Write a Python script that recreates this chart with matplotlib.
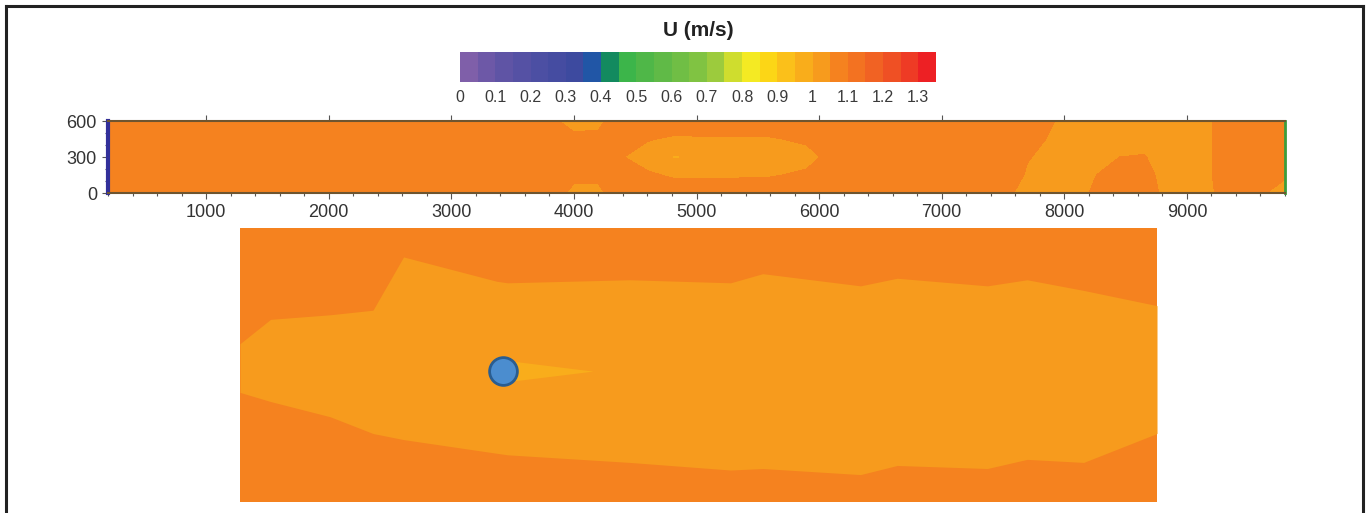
import numpy as np
import matplotlib
matplotlib.use("Agg")
import matplotlib.pyplot as plt
from matplotlib.colors import ListedColormap, BoundaryNorm
from matplotlib.cm import ScalarMappable
from matplotlib.lines import Line2D
from matplotlib.ticker import MultipleLocator, FixedFormatter

plt.rcParams["font.family"] = ["Liberation Sans", "DejaVu Sans"]

# velocity colour scale (m/s), 0.05 bins
u_levels = np.linspace(0, 1.35, 28)
u_colors = [
    "#7f5fa9", "#6d58a7", "#5f54a5", "#5551a4", "#4c4fa3", "#454ca1", "#3d4a9f",
    "#2156a6", "#138a5f", "#3cb54a", "#4fb748", "#60ba47", "#70be45", "#80c342",
    "#9ccb3d", "#cfdd2e", "#f4ea23", "#fcd616", "#fbc01a", "#f9ad1b", "#f79b1d",
    "#f5821f", "#f37221", "#f16223", "#ef5024", "#ee3b25", "#ed2024",
]
u_ticks = [0, 0.1, 0.2, 0.3, 0.4, 0.5, 0.6, 0.7, 0.8, 0.9, 1.0, 1.1, 1.2, 1.3]
u_tick_labels = ["0", "0.1", "0.2", "0.3", "0.4", "0.5", "0.6", "0.7",
                 "0.8", "0.9", "1", "1.1", "1.2", "1.3"]

# full channel: U sampled at these x (m) and y (m) nodes
top_x = [200, 3300, 3800, 4000, 4200, 4350, 4600, 4825, 5200, 5600, 5900, 6100,
         7400, 7550, 7700, 7950, 8200, 8450, 8650, 8800, 9100, 9350, 9600, 9800]
top_y = [0, 150, 300, 450, 600]
# one column per x node, values bottom -> top
u_top_cols = [
    [1.09, 1.09, 1.09, 1.09, 1.09],
    [1.09, 1.09, 1.09, 1.09, 1.09],
    [1.09, 1.09, 1.09, 1.09, 1.07],
    [1.03, 1.07, 1.09, 1.07, 1.02],
    [1.03, 1.07, 1.09, 1.07, 1.03],
    [1.09, 1.09, 1.06, 1.09, 1.09],
    [1.09, 1.06, 1.02, 1.055, 1.09],
    [1.09, 1.04, 0.995, 1.04, 1.09],
    [1.09, 1.04, 1.02, 1.045, 1.09],
    [1.09, 1.045, 1.02, 1.045, 1.09],
    [1.09, 1.06, 1.03, 1.06, 1.09],
    [1.09, 1.09, 1.07, 1.09, 1.09],
    [1.09, 1.09, 1.09, 1.09, 1.09],
    [1.06, 1.09, 1.09, 1.09, 1.09],
    [1.02, 1.04, 1.055, 1.08, 1.09],
    [1.02, 1.02, 1.02, 1.03, 1.045],
    [1.05, 1.04, 1.02, 1.02, 1.02],
    [1.09, 1.08, 1.05, 1.02, 1.02],
    [1.09, 1.08, 1.055, 1.02, 1.02],
    [1.04, 1.03, 1.02, 1.02, 1.02],
    [1.02, 1.02, 1.02, 1.02, 1.02],
    [1.08, 1.09, 1.09, 1.09, 1.09],
    [1.06, 1.09, 1.09, 1.09, 1.09],
    [1.02, 1.06, 1.09, 1.09, 1.09],
]

# close-up around the turbine (local metres)
zoom_x = [0, 20, 59, 87, 107, 168, 175, 255, 321, 342, 406, 430, 489, 515, 552, 600]
zoom_upper = [104, 120, 123, 126, 161, 145, 144, 146, 144, 150, 142, 147, 142, 146, 139, 129]
zoom_lower = [72, 66, 56, 45, 41, 32, 31, 26, 21, 22, 18, 24, 22, 28, 26, 45]
u_outer = 1.08
u_band = 1.02
u_wake = 0.97
wake_x = [172, 181, 231]
wake_half = [6.2, 6.2, 0]
turbine_x = 172
turbine_y = 86

cmap = ListedColormap(u_colors)
norm = BoundaryNorm(u_levels, len(u_colors))

W, H = 1369, 513
fig = plt.figure(figsize=(W / 100, H / 100), dpi=100)

# colour bar + title
cax = fig.add_axes([460 / W, 1 - 82 / H, 476 / W, 30 / H])
cb = fig.colorbar(ScalarMappable(norm=norm, cmap=cmap), cax=cax,
                  orientation="horizontal", ticks=u_ticks,
                  format=FixedFormatter(u_tick_labels))
cb.outline.set_visible(False)
cb.minorticks_off()
cax.tick_params(which="both", length=0, labelsize=11.5, pad=6, colors="#3a3a3a")
fig.text(698 / W, 1 - 30 / H, "U (m/s)", ha="center", va="center",
         fontsize=15, fontweight="bold", color="#222222")

# full channel contour
ax = fig.add_axes([108 / W, 1 - 193 / H, 1177 / W, 72 / H])
Z = np.array(u_top_cols).T
ax.contourf(top_x, top_y, Z, levels=u_levels, cmap=cmap, norm=norm)
ax.set_xlim(200, 9800)
ax.set_ylim(0, 600)
ax.set_xticks(range(1000, 9001, 1000))
ax.set_yticks([0, 300, 600])
ax.xaxis.set_minor_locator(MultipleLocator(200))
ax.yaxis.set_minor_locator(MultipleLocator(100))
ax.tick_params(which="both", direction="out", colors="#555555", width=0.8,
               labelsize=13, labelcolor="#333333")
ax.tick_params(axis="x", which="major", length=4, pad=4, top=True)
ax.tick_params(axis="x", which="minor", length=2.5, top=False)
ax.tick_params(axis="y", which="major", length=4, pad=4)
ax.tick_params(axis="y", which="minor", length=2)
for s in ["top", "bottom"]:
    ax.spines[s].set_color("#6e5530")
    ax.spines[s].set_linewidth(1.5)
ax.spines["left"].set_color("#32309a")
ax.spines["left"].set_linewidth(3)
ax.spines["right"].set_color("#3c9d3c")
ax.spines["right"].set_linewidth(2)

# close-up panel
axb = fig.add_axes([240 / W, 11 / H, 917 / W, 274 / H])
axb.set_facecolor(cmap(norm(u_outer)))
axb.fill_between(zoom_x, zoom_lower, zoom_upper, color=cmap(norm(u_band)), lw=0)
wx = np.array(wake_x)
wh = np.array(wake_half)
axb.fill_between(wx, turbine_y - wh, turbine_y + wh, color=cmap(norm(u_wake)), lw=0)
axb.plot([turbine_x], [turbine_y], "o", ms=20, mfc="#4b8dcf", mec="#2a5d90", mew=2)
axb.set_xlim(0, 600)
axb.set_ylim(0, 180)
axb.set_xticks([])
axb.set_yticks([])
for s in axb.spines.values():
    s.set_visible(False)

# outer frame (open at the bottom)
fc = "#222222"
fig.add_artist(Line2D([6 / W, 6 / W], [0, 1 - 6 / H], color=fc, lw=2.2))
fig.add_artist(Line2D([6 / W, 1363 / W], [1 - 6 / H, 1 - 6 / H], color=fc, lw=2.2))
fig.add_artist(Line2D([1363 / W, 1363 / W], [0, 1 - 6 / H], color=fc, lw=2.2))

fig.savefig("out.png", dpi=100)
